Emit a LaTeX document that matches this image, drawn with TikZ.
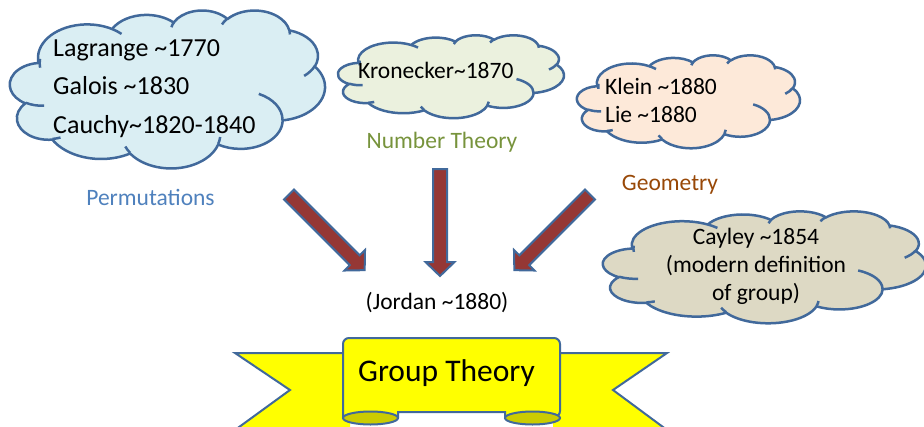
\documentclass[tikz,border=0pt]{standalone}
\usepackage{fontspec}
\setmainfont{Carlito}

\definecolor{outl}{HTML}{41699B}
\definecolor{cloudblue}{HTML}{DAEEF3}
\definecolor{cloudgreen}{HTML}{EBF1DE}
\definecolor{cloudpeach}{HTML}{FDE9D9}
\definecolor{cloudtan}{HTML}{DDD9C4}
\definecolor{permblue}{HTML}{4F81BD}
\definecolor{ntgreen}{HTML}{77933C}
\definecolor{geobrown}{HTML}{984807}
\definecolor{arrowred}{HTML}{953735}
\definecolor{ribbonyellow}{HTML}{FFFF00}
\definecolor{ribbonfold}{HTML}{CCCC00}

\newcommand\ttil{\textasciitilde}

% elliptic arc given as (wR, hR, visual start angle, sweep), converted to
% the parametric angles TikZ expects
\newcommand\cldprep[4]{%
  \pgfmathsetmacro\cldA{atan2((#1)*sin(#3),(#2)*cos(#3))}%
  \pgfmathsetmacro\cldB{atan2((#1)*sin((#3)+(#4)),(#2)*cos((#3)+(#4)))}%
  \pgfmathsetmacro\cldD{mod(\cldB-(\cldA)+720,360)}%
  \global\let\cldA\cldA
  \global\let\cldD\cldD}
\newcommand\cldarc[4]{\pgfextra{\cldprep{#1}{#2}{#3}{#4}} arc[start angle=\cldA, delta angle=\cldD, x radius=#1/4, y radius=#2/4]}

% cloud outline in a 10800 x 10800 box
\newcommand\cldouter{(975,3592.5)
 \cldarc{6753}{9190}{-190.4875}{123.7805}
 \cldarc{5333}{7267}{-144.1024}{89.9452}
 \cldarc{4365}{5945}{-145.8079}{99.7230}
 \cldarc{4857}{6595}{-130.9861}{117.2417}
 \cldarc{5333}{7273}{-78.7089}{109.0269}
 \cldarc{6775}{9220}{-46.2673}{130.2690}
 \cldarc{5785}{7867}{0.6250}{114.0333}
 \cldarc{6752}{9215}{22.4516}{115.1726}
 \cldarc{7720}{10543}{66.2426}{75.7110}
 \cldarc{4360}{5918}{-274.9421}{146.7356}
 \cldarc{4345}{5945}{-246.8285}{152.5189}
 -- cycle}
% the small seams inside the cloud
\newcommand\cldinner{(1173.25,6544.25) \cldarc{4345}{5945}{86.7420}{26.4295}
 (1732,8724.75) \cldarc{4360}{5918}{73.6105}{11.4475}
 (4119.5,9772.5) \cldarc{6752}{9215}{137.6242}{14.0811}
 (7206.75,8687.75) \cldarc{6752}{9215}{6.4533}{15.9984}
 (8532.25,5738.5) \cldarc{5785}{7867}{-70.2924}{70.9174}
 (10449.5,3838.5) \cldarc{5333}{7273}{30.3180}{27.7515}
 (9581,1356.5) \cldarc{4857}{6595}{-13.7443}{14.8589}
 (7269.5,988) \cldarc{4857}{6595}{-149.1815}{18.1954}
 (5535.25,1180) \cldarc{4365}{5945}{-163.4943}{17.6864}
 (3500,1298) \cldarc{6753}{9190}{-66.7070}{12.3194}
 (1031.75,3947.25) \cldarc{6753}{9190}{-190.4875}{20.3276}}

% x0 y0 width height fill
\newcommand\drawcloud[5]{%
  \pgfmathsetmacro\cldx{#3/10800}%
  \pgfmathsetmacro\cldy{#4/10800}%
  \begin{scope}[shift={(#1,#2)}, x=\cldx pt, y=-\cldy pt]
    \path[cloudline, fill=#5] \cldouter;
    \path[cloudline] \cldinner;
  \end{scope}}

\begin{document}
\begin{tikzpicture}[x=1pt, y=-1pt,
  cloudline/.style={draw=outl, line width=2.5pt, line join=round},
  blockarrow/.style={fill=arrowred, draw=outl, line width=2pt, line join=miter},
  ribbon/.style={fill=ribbonyellow, draw=outl, line width=2pt, line join=miter},
  fold/.style={fill=ribbonfold, draw=outl, line width=2pt},
  txt/.style={inner sep=0pt, font=\fontsize{23.5}{28}\selectfont},
  bigtxt/.style={inner sep=0pt, font=\fontsize{26}{31}\selectfont},
  titletxt/.style={inner sep=0pt, font=\fontsize{31.5}{38}\selectfont}]
\useasboundingbox (0,0) rectangle (924,426);

% clouds
\drawcloud{10}{10}{315}{158}{cloudblue}
\drawcloud{338}{35}{226}{83}{cloudgreen}
\drawcloud{577}{55}{223}{93}{cloudpeach}
\drawcloud{603}{211}{323}{112}{cloudtan}

% cloud texts
\node[bigtxt, anchor=base west] (lagrange) at (53,56.7) {Lagrange \ttil1770};
\node[bigtxt, anchor=base west] (galois) at (53,94.3) {Galois \ttil1830};
\node[bigtxt, anchor=base west] (cauchy) at (53,133.3) {Cauchy\ttil1820-1840};
\node[txt, anchor=base west] (kronecker) at (358,78.3) {Kronecker\ttil1870};
\node[txt, anchor=base west] (klein) at (605,94.3) {Klein \ttil1880};
\node[txt, anchor=base west] (lie) at (605,122.7) {Lie \ttil1880};
\node[txt, anchor=base] (cayley) at (756,244.3) {Cayley \ttil1854};
\node[txt, anchor=base] (moddef) at (756,272.3) {(modern definition};
\node[txt, anchor=base] (ofgroup) at (756,300) {of group)};

% field labels
\node[txt, anchor=base, text=permblue] (perm) at (150.5,205) {Permutations};
\node[txt, anchor=base, text=ntgreen] (numth) at (442,148.3) {Number Theory};
\node[txt, anchor=base, text=geobrown] (geom) at (670,190) {Geometry};
\node[txt, anchor=base] (jordan) at (437,309) {(Jordan \ttil1880)};

% block arrows
\begin{scope}[shift={(289,194.5)}, rotate=-45]
  \draw[blockarrow] (0,-7) -- (93,-7) -- (93,-14.5) -- (107,0) -- (93,14.5) -- (93,7) -- (0,7) -- cycle;
\end{scope}
\begin{scope}[shift={(440,169)}, rotate=-90]
  \draw[blockarrow] (0,-7) -- (93,-7) -- (93,-14.5) -- (107,0) -- (93,14.5) -- (93,7) -- (0,7) -- cycle;
\end{scope}
\begin{scope}[shift={(590,194.5)}, rotate=-135]
  \draw[blockarrow] (0,-7) -- (93,-7) -- (93,-14.5) -- (107,0) -- (93,14.5) -- (93,7) -- (0,7) -- cycle;
\end{scope}

% ribbon banner
\draw[ribbon] (350,353) -- (235,353) -- (290,390) -- (235,430) -- (350,430);
\draw[ribbon] (553,353) -- (667,353) -- (613,390) -- (667,430) -- (553,430);
\draw[ribbon] (343,417) [rounded corners=6pt] -- (343,338) -- (560,338) -- (560,417)
  [sharp corners] -- (505,417) -- (505,412) -- (398,412) -- (398,417) -- cycle;
\draw[fold] (370.5,418) ellipse[x radius=27.5, y radius=6.5];
\draw[fold] (532.5,418) ellipse[x radius=27.5, y radius=6.5];
\node[titletxt, anchor=base] (group) at (446.5,381.7) {Group Theory};
\end{tikzpicture}
\end{document}
